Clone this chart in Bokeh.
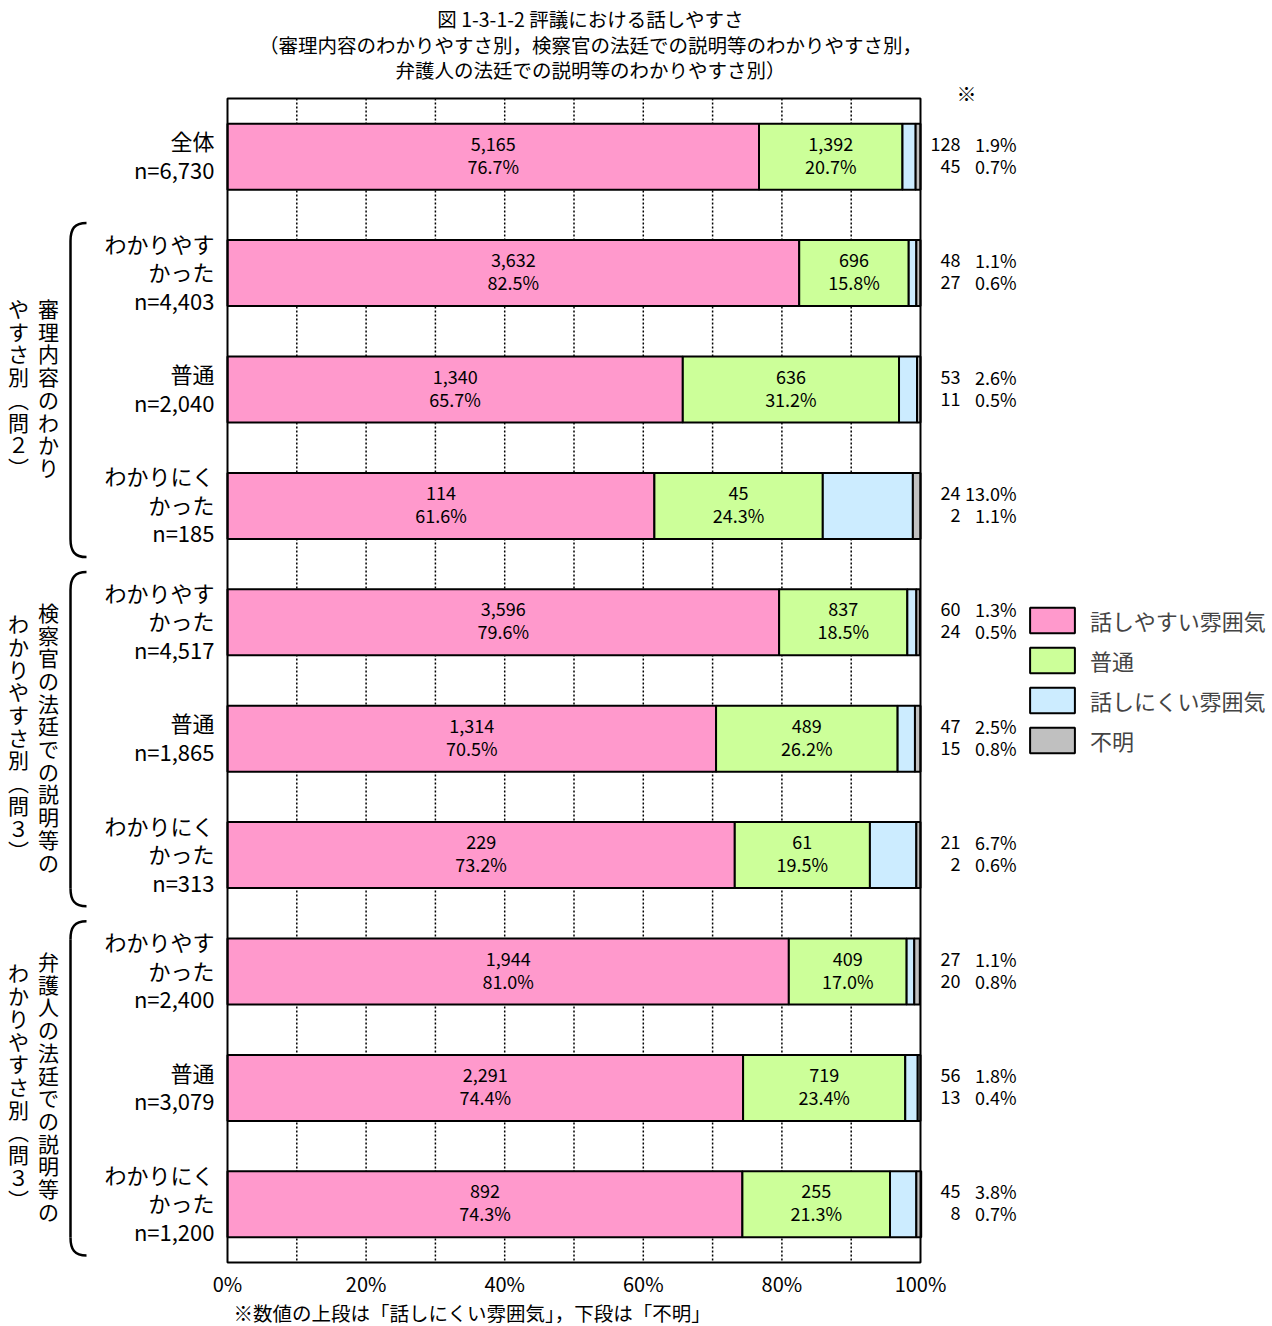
from bokeh.plotting import figure
from bokeh.models import ColumnDataSource, Range1d, Legend, LegendItem
from bokeh.core.properties import value
from bokeh.embed import file_html
from bokeh.resources import INLINE

# ---------------- data ----------------
title_lines = [
    "図 1-3-1-2 評議における話しやすさ",
    "（審理内容のわかりやすさ別，検察官の法廷での説明等のわかりやすさ別，",
    "弁護人の法廷での説明等のわかりやすさ別）",
]
categories = [
    "全体",
    "わかりやす\nかった", "普通", "わかりにく\nかった",
    "わかりやす\nかった", "普通", "わかりにく\nかった",
    "わかりやす\nかった", "普通", "わかりにく\nかった",
]
n_values = [6730, 4403, 2040, 185, 4517, 1865, 313, 2400, 3079, 1200]
series_names = ["話しやすい雰囲気", "普通", "話しにくい雰囲気", "不明"]
cnt_easy = [5165, 3632, 1340, 114, 3596, 1314, 229, 1944, 2291, 892]
pct_easy = [76.7, 82.5, 65.7, 61.6, 79.6, 70.5, 73.2, 81.0, 74.4, 74.3]
cnt_normal = [1392, 696, 636, 45, 837, 489, 61, 409, 719, 255]
pct_normal = [20.7, 15.8, 31.2, 24.3, 18.5, 26.2, 19.5, 17.0, 23.4, 21.3]
cnt_hard = [128, 48, 53, 24, 60, 47, 21, 27, 56, 45]
pct_hard = [1.9, 1.1, 2.6, 13.0, 1.3, 2.5, 6.7, 1.1, 1.8, 3.8]
cnt_unknown = [45, 27, 11, 2, 24, 15, 2, 20, 13, 8]
pct_unknown = [0.7, 0.6, 0.5, 1.1, 0.5, 0.8, 0.6, 0.8, 0.4, 0.7]
group_labels = [
    ("審理内容のわかり", "やすさ別︵問２︶"),
    ("検察官の法廷での説明等の", "わかりやすさ別︵問３︶"),
    ("弁護人の法廷での説明等の", "わかりやすさ別︵問３︶"),
]
group_rows = [(1, 3), (4, 6), (7, 9)]
x_ticks = [0, 20, 40, 60, 80, 100]
grid_x = [10, 20, 30, 40, 50, 60, 70, 80, 90]
footnote = "※数値の上段は「話しにくい雰囲気」，下段は「不明」"
star = "※"

colors = ["#FF99CC", "#CCFF99", "#CCECFF", "#C0C0C0"]
FONT = "Noto Sans CJK JP"

# ---------------- layout ----------------
W, H = 1272, 1326
FX0, FX1 = 227, 920
FY0, FY1 = 98, 1262
SX = (FX1 - FX0) / 100.0
RH = (FY1 - FY0) / 10.0
TY = -2  # small upward text nudge


def dx(px):  # pixel x -> data x
    return (px - FX0) / SX


def dy(py):  # pixel y -> data y
    return -(py - FY0) / RH


p = figure(width=W, height=H,
           x_range=Range1d(dx(0), dx(W)), y_range=Range1d(dy(H), dy(0)),
           x_axis_type=None, y_axis_type=None, toolbar_location=None,
           output_backend="svg", min_border=0, outline_line_color=None,
           background_fill_color="white", border_fill_color="white")

nrows = len(categories)
ys = [-(i + 0.5) for i in range(nrows)]

# dotted vertical grid
p.segment(x0=grid_x, y0=[0] * len(grid_x), x1=grid_x, y1=[-nrows] * len(grid_x),
          line_color="black", line_width=1.5, line_dash="2 2")

# stacked bars
src = ColumnDataSource(dict(y=ys, easy=pct_easy, normal=pct_normal,
                            hard=pct_hard, unknown=pct_unknown))
rs = p.hbar_stack(["easy", "normal", "hard", "unknown"], y="y", height=0.567,
                  fill_color=colors, line_color="black", line_width=2, source=src)

# plot box
p.quad(left=[0], right=[100], top=[0], bottom=[-nrows], fill_color=None,
       line_color="black", line_width=2)

# in-bar labels
lx, ly, lt, lo = [], [], [], []
for i in range(nrows):
    segs = [(0, pct_easy[i], cnt_easy[i]), (pct_easy[i], pct_normal[i], cnt_normal[i])]
    for left, w, c in segs:
        cx = left + w / 2.0
        lx += [cx, cx]
        ly += [ys[i], ys[i]]
        lt += [f"{c:,}", f"{w:.1f}%"]
        lo += [-11 + TY, 11 + TY]
p.text(x=lx, y=ly, text=lt, y_offset=lo, text_align="center", text_baseline="middle",
       text_font=value(FONT), text_font_size="18px", text_color="black")

# right-side labels (hard / unknown)
ry, rt1, rt2, ro = [], [], [], []
for i in range(nrows):
    for c, v, off in [(cnt_hard[i], pct_hard[i], -11), (cnt_unknown[i], pct_unknown[i], 11)]:
        ry.append(ys[i]); ro.append(off + TY)
        rt1.append(f"{c:,}"); rt2.append(f"{v:.1f}%")
p.text(x=[dx(960)] * len(ry), y=ry, text=rt1, y_offset=ro, text_align="right",
       text_baseline="middle", text_font=value(FONT), text_font_size="18px")
p.text(x=[dx(1016)] * len(ry), y=ry, text=rt2, y_offset=ro, text_align="right",
       text_baseline="middle", text_font=value(FONT), text_font_size="18px")

# category labels
cy, ct, co = [], [], []
for i, cat in enumerate(categories):
    lines = cat.split("\n") + [f"n={n_values[i]:,}"]
    k = len(lines)
    for j, ln in enumerate(lines):
        cy.append(ys[i]); ct.append(ln); co.append((j - (k - 1) / 2.0) * 28.5 + TY)
p.text(x=[dx(214)] * len(cy), y=cy, text=ct, y_offset=co, text_align="right",
       text_baseline="middle", text_font=value(FONT), text_font_size="22px")

# group labels (vertical) and braces
gx, gy, gt, go = [], [], [], []
for (s, e), (col_r, col_l) in zip(group_rows, group_labels):
    yc = -((s + e + 1) / 2.0)
    for colx, txt in [(dx(48), col_r), (dx(18), col_l)]:
        n = len(txt)
        for j, ch in enumerate(txt):
            gx.append(colx); gy.append(yc); gt.append(ch)
            go.append((j - (n - 1) / 2.0) * 22.7 + TY)
    ytop = -s - 8 / RH
    ybot = -(e + 1) + 7 / RH
    c = 18 / RH
    p.bezier(x0=[dx(86), dx(70)], y0=[ytop, ybot + c], x1=[dx(70), dx(86)], y1=[ytop - c, ybot],
             cx0=[dx(74), dx(70)], cy0=[ytop, ybot + 6 / RH],
             cx1=[dx(70), dx(74)], cy1=[ytop - 6 / RH, ybot],
             line_color="black", line_width=2.5)
    p.segment(x0=[dx(70)], y0=[ytop - c], x1=[dx(70)], y1=[ybot + c],
              line_color="black", line_width=2.5)
p.text(x=gx, y=gy, text=gt, y_offset=go, text_align="center", text_baseline="middle",
       text_font=value(FONT), text_font_size="21px")

# x tick labels
p.text(x=x_ticks, y=[dy(1285)] * len(x_ticks), text=[f"{t}%" for t in x_ticks],
       y_offset=TY, text_align="center", text_baseline="middle", text_font=value(FONT),
       text_font_size="20px")

# title
p.text(x=[dx(590)] * 3, y=[dy(20), dy(46), dy(71)], text=title_lines, y_offset=TY,
       text_align="center", text_baseline="middle", text_font=value(FONT),
       text_font_size="19.5px")

# star & footnote
p.text(x=[dx(966)], y=[dy(93)], text=[star], text_align="center", text_baseline="middle",
       text_font=value(FONT), text_font_size="20px")
p.text(x=[dx(233)], y=[dy(1314)], text=[footnote], y_offset=TY, text_align="left",
       text_baseline="middle", text_font=value(FONT), text_font_size="19.5px")

# legend (glyph area is drawn at 80%, so enlarge it)
gw, gh, gsp = 56, 32, 8
leg_top = 607 - 3
leg_h = 4 * gh + 3 * gsp
legend = Legend(items=[LegendItem(label=nm, renderers=[r]) for nm, r in zip(series_names, rs)],
                location=(1024, H - (leg_top + leg_h)), orientation="vertical",
                border_line_color=None, background_fill_alpha=0, padding=0, margin=0,
                spacing=gsp, glyph_width=gw, glyph_height=gh, label_height=26,
                label_standoff=10, label_text_font=FONT, label_text_font_size="22px")
p.add_layout(legend)

open("out.html", "w").write(file_html(p, INLINE))
